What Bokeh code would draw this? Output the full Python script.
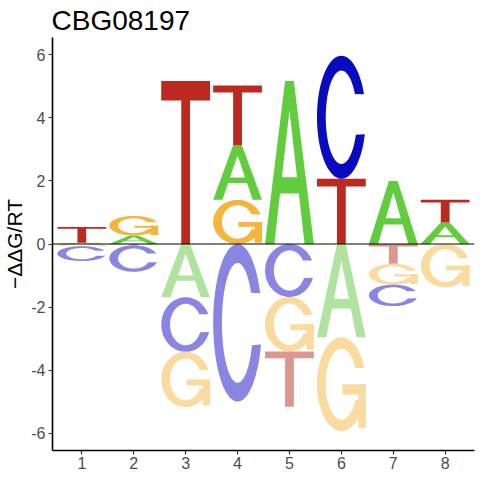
import numpy as np
from bokeh.plotting import figure
from bokeh.models import Range1d, FixedTicker, Span, ColumnDataSource
from bokeh.embed import file_html
from bokeh.resources import INLINE

# ---------------- data ----------------
title_text = "CBG08197"
y_label = "\u2212\u0394\u0394G/RT"
positions = [1, 2, 3, 4, 5, 6, 7, 8]
letters = ["A", "C", "G", "T"]

# positive contributions (stacked upward)
A_up = [0.04, 0.27, 0.00, 1.73, 5.17, 0.00, 2.00, 0.68]
C_up = [0.00, 0.00, 0.00, 0.00, 0.00, 3.90, 0.00, 0.00]
G_up = [0.00, 0.62, 0.00, 1.40, 0.00, 0.00, 0.00, 0.00]
T_up = [0.50, 0.00, 5.17, 1.90, 0.00, 2.07, 0.00, 0.72]

# negative contributions (magnitudes, stacked downward)
A_dn = [0.00, 0.00, 1.69, 0.00, 0.00, 2.96, 0.00, 0.00]
C_dn = [0.47, 0.84, 1.73, 5.00, 1.68, 0.00, 0.68, 0.00]
G_dn = [0.07, 0.00, 1.75, 0.00, 1.73, 2.97, 0.66, 1.37]
T_dn = [0.00, 0.04, 0.00, 0.00, 1.75, 0.00, 0.63, 0.00]

y_ticks = [-6, -4, -2, 0, 2, 4, 6]
x_ticks = positions

colors_up = {"A": "#61CC3D", "C": "#0A0ABF", "G": "#F5B43C", "T": "#BA2A1E"}
colors_dn = {"A": "#B0E3A0", "C": "#8A84E2", "G": "#FADB9F", "T": "#DB968F"}

up = {"A": A_up, "C": C_up, "G": G_up, "T": T_up}
dn = {"A": A_dn, "C": C_dn, "G": G_dn, "T": T_dn}

LETTER_WIDTH = 0.94


# ---------------- letter outlines in a unit box ----------------
def arc(rx, ry, a0, a1, n=72):
    t = np.radians(np.linspace(a0, a1, n))
    return list(zip(0.5 + rx * np.cos(t), 0.5 + ry * np.sin(t)))


def rect(x0, x1, y0, y1):
    return [(x0, y0), (x1, y0), (x1, y1), (x0, y1)]


def shape(letter):
    # list of separate parts; each part is [outer_ring, hole_ring, ...]
    if letter == "T":
        return [[[(0, 1.0), (0, 0.88), (0.41, 0.88), (0.41, 0.0), (0.59, 0.0),
                  (0.59, 0.88), (1, 0.88), (1, 1.0)]]]
    if letter == "A":
        outer = [(0, 0), (0.41, 1), (0.59, 1), (1, 0), (0.81, 0),
                 (0.693, 0.31), (0.307, 0.31), (0.19, 0)]
        hole = [(0.345, 0.41), (0.655, 0.41), (0.5, 0.82)]
        return [[outer, hole]]
    if letter == "C":
        ring = arc(0.5, 0.5, 22, 344) + arc(0.32, 0.38, 338, 30)
        return [[ring]]
    if letter == "G":
        ring = arc(0.5, 0.5, 20, 340) + arc(0.32, 0.38, 334, 27)
        return [[ring], [rect(0.52, 1.0, 0.39, 0.50)], [rect(0.85, 1.0, 0.03, 0.50)]]


def place(letter, xc, y0, h):
    parts = []
    for poly in shape(letter):
        px = [[xc - LETTER_WIDTH / 2 + u * LETTER_WIDTH for u, v in ring] for ring in poly]
        py = [[y0 + v * h for u, v in ring] for ring in poly]
        parts.append(([px], [py]))
    return parts


xs, ys, cols = [], [], []
for i, pos in enumerate(positions):
    # upward stack: smallest at bottom
    items = sorted([(up[l][i], l) for l in letters if up[l][i] > 0])
    base = 0.0
    for h, l in items:
        for gx, gy in place(l, pos, base, h):
            xs.append(gx); ys.append(gy); cols.append(colors_up[l])
        base += h
    # downward stack: smallest nearest zero
    items = sorted([(dn[l][i], l) for l in letters if dn[l][i] > 0])
    top = 0.0
    for h, l in items:
        for gx, gy in place(l, pos, top - h, h):
            xs.append(gx); ys.append(gy); cols.append(colors_dn[l])
        top -= h

src = ColumnDataSource(dict(xs=xs, ys=ys, color=cols))

# ---------------- figure ----------------
p = figure(width=467, height=464, frame_width=422, frame_height=413,
           x_range=Range1d(0.435, 8.565), y_range=Range1d(-6.55, 6.55),
           output_backend="svg", toolbar_location=None,
           min_border_left=0, min_border_right=4, min_border_top=0, min_border_bottom=0)

p.multi_polygons(xs="xs", ys="ys", source=src, fill_color="color", line_color=None)
p.add_layout(Span(location=0, dimension="width", line_color="black", line_width=1))

p.title.text = title_text
p.title.text_font = "Liberation Sans"
p.title.text_font_size = "28px"
p.title.text_font_style = "normal"
p.title.text_color = "black"
p.title.standoff = 4
p.title.offset = -1

p.grid.visible = False
p.outline_line_color = None
p.background_fill_color = "white"

for ax in (p.xaxis[0], p.yaxis[0]):
    ax.axis_line_color = "black"
    ax.axis_line_width = 1.6
    ax.major_tick_line_color = "#333333"
    ax.major_tick_line_width = 1.2
    ax.major_tick_out = 4
    ax.major_tick_in = 0
    ax.minor_tick_line_color = None
    ax.major_label_text_font = "Liberation Sans"
    ax.major_label_text_font_size = "16px"
    ax.major_label_text_color = "#4D4D4D"
    ax.major_label_standoff = 3

p.xaxis.major_label_standoff = 2
p.xaxis.ticker = FixedTicker(ticks=x_ticks)
p.yaxis.ticker = FixedTicker(ticks=y_ticks)
p.yaxis.major_label_overrides = {t: str(t) for t in y_ticks}
p.yaxis.axis_label = y_label
p.yaxis.axis_label_text_font = "Liberation Sans"
p.yaxis.axis_label_text_font_size = "21px"
p.yaxis.axis_label_text_font_style = "normal"
p.yaxis.axis_label_text_color = "black"
p.yaxis.axis_label_standoff = 2

open("out.html", "w").write(file_html(p, INLINE))
